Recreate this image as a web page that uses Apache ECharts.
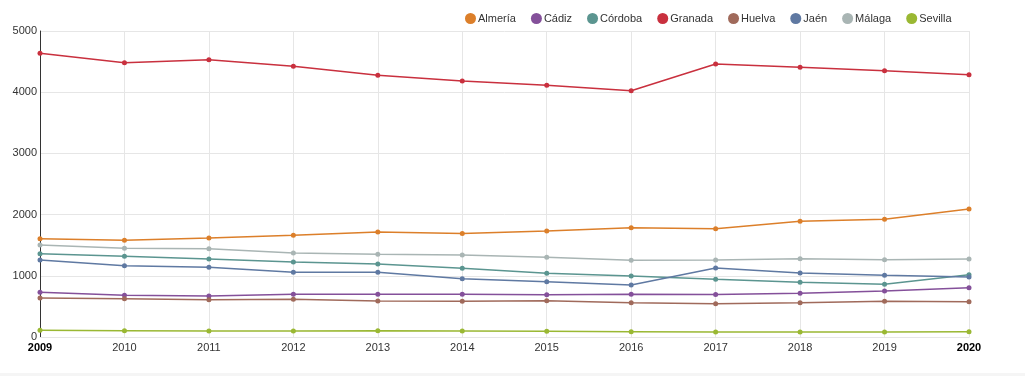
<!DOCTYPE html>
<html>
<head>
<meta charset="utf-8">
<script src="https://cdn.jsdelivr.net/npm/echarts@6/dist/echarts.min.js"></script>
<style>
  html, body { margin: 0; padding: 0; background: #f5f5f5; }
  #chart { width: 1025px; height: 373px; background: #fff; }
</style>
</head>
<body>
<div id="chart"></div>
<script>
const years = ['2009', '2010', '2011', '2012', '2013', '2014', '2015', '2016', '2017', '2018', '2019', '2020'];
const almeria = [1606, 1580, 1618, 1662, 1716, 1690, 1732, 1786, 1770, 1890, 1925, 2090];
const cadiz = [730, 681, 670, 697, 697, 697, 692, 697, 695, 714, 752, 806];
const cordoba = [1362, 1318, 1275, 1225, 1193, 1122, 1040, 997, 942, 893, 861, 1018];
const granada = [4636, 4482, 4531, 4423, 4276, 4183, 4113, 4025, 4461, 4407, 4351, 4286];
const huelva = [637, 626, 610, 615, 588, 583, 593, 561, 545, 561, 583, 577];
const jaen = [1258, 1165, 1138, 1057, 1057, 953, 904, 850, 1127, 1046, 1008, 980];
const malaga = [1503, 1449, 1443, 1373, 1351, 1340, 1302, 1253, 1258, 1280, 1264, 1275];
const sevilla = [109, 103, 98, 98, 103, 98, 93, 87, 82, 82, 82, 87];
const yTicks = [0, 1000, 2000, 3000, 4000, 5000];

const chart = echarts.init(document.getElementById('chart'));

function line(name, data) {
  return {
    name: name,
    type: 'line',
    data: data,
    symbol: 'circle',
    symbolSize: 5,
    lineStyle: { width: 1.5 },
  };
}

chart.setOption({
  color: ['#dc7f2a', '#84509a', '#5b9590', '#c9303e', '#a06a5b', '#5f79a2', '#a9b5b4', '#9ab833'],
  textStyle: { fontFamily: 'Liberation Sans, Arial, sans-serif' },
  legend: {
    top: 8,
    left: 460,
    icon: 'circle',
    itemWidth: 11,
    itemHeight: 11,
    itemGap: 15,
    textStyle: { fontSize: 11, color: '#333', padding: [0, 0, 0, -3] },
  },
  grid: {
    left: 40,
    right: 56,
    top: 31,
    bottom: 36,
  },
  xAxis: {
    type: 'category',
    boundaryGap: false,
    data: years,
    axisLine: { lineStyle: { color: '#e6e6e6' } },
    axisTick: { show: false },
    splitLine: { show: true, lineStyle: { color: '#e6e6e6' } },
    axisLabel: {
      color: '#333',
      fontSize: 11,
      margin: 5,
      formatter: function (v, i) {
        return (i === 0 || i === years.length - 1) ? '{b|' + v + '}' : v;
      },
      rich: { b: { fontWeight: 'bold', color: '#000', fontSize: 11 } },
    },
  },
  yAxis: {
    type: 'value',
    min: yTicks[0],
    max: yTicks[yTicks.length - 1],
    interval: 1000,
    axisLine: { show: true, lineStyle: { color: '#333' } },
    axisTick: { show: false },
    splitLine: { lineStyle: { color: '#e6e6e6' } },
    axisLabel: {
      color: '#333',
      fontSize: 11,
      margin: 3,
      formatter: function (v) { return String(v); },
    },
  },
  series: [
    line('Almería', almeria),
    line('Cádiz', cadiz),
    line('Córdoba', cordoba),
    line('Granada', granada),
    line('Huelva', huelva),
    line('Jaén', jaen),
    line('Málaga', malaga),
    line('Sevilla', sevilla),
  ],
});
</script>
</body>
</html>
